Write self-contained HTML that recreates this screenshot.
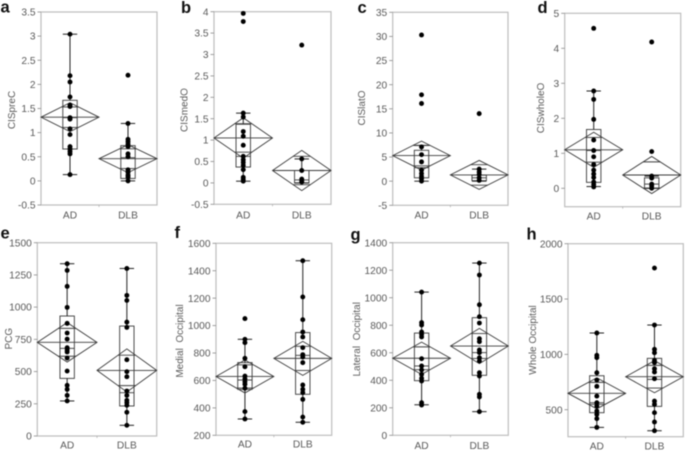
<!DOCTYPE html>
<html lang="en">
<head>
<meta charset="utf-8">
<title>Box plots of AD vs DLB</title>
<style>
html,body{margin:0;padding:0;background:#fff;width:685px;height:452px;overflow:hidden}
svg{display:block;filter:blur(0.45px)}
text{font-family:"Liberation Sans",sans-serif}
</style>
</head>
<body>
<svg id="chart" width="685" height="452" viewBox="0 0 685 452" xmlns="http://www.w3.org/2000/svg"></svg>
<script>
const categories = ['AD', 'DLB'];

// Stats order: whisker low, q1, median, q3, whisker high, mean, CI half-height
const aTicks = [3.5, 3, 2.5, 2, 1.5, 1, 0.5, 0, -0.5];
const aAdPoints = [3.04, 2.18, 2.05, 1.74, 1.57, 1.54, 1.31, 1.28, 1.08, 0.96, 0.71, 0.66, 0.61, 0.56, 0.13];
const aDlbPoints = [2.19, 1.19, 0.86, 0.81, 0.76, 0.71, 0.56, 0.5, 0.23, 0.18, 0.12, 0.08, 0];
const aAdStats = [0.13, 0.66, 1.31, 1.67, 3.04, 1.32, 0.3];
const aDlbStats = [0, 0.05, 0.48, 0.73, 1.19, 0.46, 0.29];

const bTicks = [4, 3.5, 3, 2.5, 2, 1.5, 1, 0.5, 0, -0.5];
const bAdPoints = [3.96, 3.77, 1.63, 1.54, 1.2, 1.09, 0.88, 0.62, 0.54, 0.48, 0.41, 0.31, 0.13, 0.08, 0.04];
const bDlbPoints = [3.22, 0.56, 0.29, 0.09, 0.05, 0.02];
const bAdStats = [0.04, 0.37, 0.62, 1.37, 1.63, 1.05, 0.47];
const bDlbStats = [0, 0, 0.07, 0.29, 0.56, 0.29, 0.47];

const cTicks = [35, 30, 25, 20, 15, 10, 5, 0, -5];
const cAdPoints = [30.3, 17.9, 16.1, 7.1, 5.5, 4, 2.3, 1.6, 1, 0.5, 0];
const cDlbPoints = [14, 2.5, 1.9, 1.4, 0.7, 0.15];
const cAdStats = [0, 0.7, 2.8, 6.4, 7.4, 5.3, 3];
const cDlbStats = [0, 0.1, 0.7, 1.25, 2.5, 1.3, 3];

const dTicks = [5, 4, 3, 2, 1, 0];
const dAdPoints = [4.57, 2.78, 2.54, 1.97, 1.38, 1.08, 0.9, 0.68, 0.52, 0.41, 0.31, 0.18, 0.11, 0.04];
const dDlbPoints = [4.18, 1.05, 0.35, 0.29, 0.12, 0.07, 0];
const dAdStats = [0.05, 0.17, 1.08, 1.68, 2.78, 1.1, 0.5];
const dDlbStats = [0, 0, 0.12, 0.3, 0.35, 0.38, 0.53];

const eTicks = [1500, 1250, 1000, 750, 500, 250, 0];
const eAdPoints = [1337, 1285, 1161, 998, 874, 799, 752, 685, 667, 652, 605, 504, 393, 362, 315, 272];
const eDlbPoints = [1300, 1091, 1052, 884, 843, 592, 499, 460, 349, 315, 277, 259, 238, 184, 83];
const eAdStats = [272, 447, 680, 931, 1337, 727, 153];
const eDlbStats = [83, 233, 336, 853, 1300, 509, 167];

const fTicks = [1600, 1400, 1200, 1000, 800, 600, 400, 200];
const fAdPoints = [1051, 900, 876, 761, 700, 632, 612, 591, 572, 543, 373, 319];
const fDlbPoints = [1473, 1209, 1043, 953, 917, 839, 788, 771, 730, 567, 535, 511, 462, 333, 295];
const fAdStats = [319, 535, 603, 730, 900, 629, 120];
const fDlbStats = [295, 499, 783, 949, 1473, 761, 124];

const gTicks = [1400, 1200, 1000, 800, 600, 400, 200, 0];
const gAdPoints = [1041, 819, 802, 751, 734, 715, 557, 504, 475, 443, 414, 395, 237, 220];
const gDlbPoints = [1252, 1165, 949, 862, 816, 702, 681, 620, 601, 564, 540, 455, 431, 298, 279, 172];
const gAdStats = [222, 397, 504, 743, 1041, 560, 117];
const gDlbStats = [172, 436, 601, 855, 1252, 649, 128];

const hTicks = [2000, 1500, 1000, 500];
const hAdPoints = [1193, 991, 970, 834, 768, 711, 623, 563, 533, 488, 458, 419, 340];
const hDlbPoints = [1780, 1265, 1045, 1015, 946, 925, 870, 840, 780, 578, 548, 473, 389, 310];
const hAdStats = [340, 473, 563, 807, 1193, 648, 140];
const hDlbStats = [310, 530, 774, 964, 1265, 798, 145];

const panels = [
  {id:'a', title:'CISpreC', ticks:aTicks, points:[aAdPoints,aDlbPoints], stats:[aAdStats,aDlbStats],
   x0:41, x1:157, vTop:3.5, pxTop:12, vBot:-0.5, pxBot:205, frameBot:205, lx:0.5, ly:12.7, tx:12.3, ty:110, catY:218.5},
  {id:'b', title:'CISmedO', ticks:bTicks, points:[bAdPoints,bDlbPoints], stats:[bAdStats,bDlbStats],
   x0:214, x1:331, vTop:4, pxTop:11.7, vBot:-0.5, pxBot:204.3, frameBot:204.3, lx:181, ly:13, tx:185, ty:110, catY:218.5},
  {id:'c', title:'CISlatO', ticks:cTicks, points:[cAdPoints,cDlbPoints], stats:[cAdStats,cDlbStats],
   x0:392.7, x1:508, vTop:35, pxTop:12.3, vBot:-5, pxBot:205.3, frameBot:205.3, lx:357.5, ly:13, tx:362.7, ty:108, catY:218.5},
  {id:'d', title:'CISwholeO', ticks:dTicks, points:[dAdPoints,dDlbPoints], stats:[dAdStats,dDlbStats],
   x0:564.7, x1:680.7, vTop:5, pxTop:13.3, vBot:0, pxBot:188.3, frameBot:206.7, lx:537.5, ly:13, tx:541.7, ty:108, catY:219.5},
  {id:'e', title:'PCG', ticks:eTicks, points:[eAdPoints,eDlbPoints], stats:[eAdStats,eDlbStats],
   x0:37.3, x1:156.7, vTop:1500, pxTop:242.7, vBot:0, pxBot:436, frameBot:436, lx:0.5, ly:238.7, tx:9.3, ty:338.7, catY:448.5},
  {id:'f', title:'Medial\u00A0\u00A0Occipital', ticks:fTicks, points:[fAdPoints,fDlbPoints], stats:[fAdStats,fDlbStats],
   x0:216, x1:331.7, vTop:1600, pxTop:243.3, vBot:200, pxBot:435.3, frameBot:435.3, lx:174.5, ly:238, tx:180.7, ty:341, catY:447.5},
  {id:'g', title:'Lateral\u00A0\u00A0Occipital', ticks:gTicks, points:[gAdPoints,gDlbPoints], stats:[gAdStats,gDlbStats],
   x0:392.7, x1:508.3, vTop:1400, pxTop:242.7, vBot:0, pxBot:435.3, frameBot:435.3, lx:350.5, ly:240, tx:357.3, ty:339.3, catY:449},
  {id:'h', title:'Whole Occipital', ticks:hTicks, points:[hAdPoints,hDlbPoints], stats:[hAdStats,hDlbStats],
   x0:568, x1:683.3, vTop:2000, pxTop:243.7, vBot:500, pxBot:409.7, frameBot:436.7, lx:526.5, ly:239.3, tx:533.3, ty:340, catY:449.5}
];

const NS = 'http://www.w3.org/2000/svg';
const root = document.getElementById('chart');
const FRAME = '#bdbdbd', INK = '#3a3a3a', LABEL = '#5a5a5a';

function make(parent, tag, attrs, content) {
  const el = document.createElementNS(NS, tag);
  for (const k in attrs) el.setAttribute(k, attrs[k]);
  if (content !== undefined) el.textContent = content;
  parent.appendChild(el);
  return el;
}

panels.forEach(function (p) {
  const yScale = function (v) {
    return p.pxTop + (v - p.vTop) * (p.pxBot - p.pxTop) / (p.vBot - p.vTop);
  };
  const bandW = (p.x1 - p.x0) / categories.length;
  const xScale = function (i) { return p.x0 + bandW * (i + 0.5); };

  const g = make(root, 'g', {});
  
  

  const letter = make(g, 'text', {x: p.lx, y: p.ly, 'font-size': 16.5, 'font-weight': 'bold', fill: '#111'}, p.id);
  
  

  const frame = make(g, 'rect', {x: p.x0, y: p.pxTop, width: p.x1 - p.x0, height: p.frameBot - p.pxTop, fill: 'none', stroke: FRAME, 'stroke-width': 1.2});
  
  

  const yTitle = make(g, 'text', {transform: 'translate(' + p.tx + ',' + p.ty + ') rotate(-90)', 'text-anchor': 'middle', 'dominant-baseline': 'central', 'font-size': 10, fill: LABEL}, p.title);
  
  

  p.ticks.forEach(function (t) {
    const y = yScale(t);
    const tick = make(g, 'line', {x1: p.x0 - 3.5, x2: p.x0, y1: y, y2: y, stroke: '#8a8a8a', 'stroke-width': 0.8});
    
    
    const label = make(g, 'text', {x: p.x0 - 5.5, y: y + 3.6, 'text-anchor': 'end', 'font-size': 10.2, fill: LABEL}, String(t));
    
    
  });

  const midTick = make(g, 'line', {x1: (p.x0 + p.x1) / 2, x2: (p.x0 + p.x1) / 2, y1: p.frameBot, y2: p.frameBot + 2, stroke: '#aaa', 'stroke-width': 0.7});
  
  

  categories.forEach(function (cat, i) {
    const cx = xScale(i);
    const s = p.stats[i];
    const low = s[0], q1 = s[1], med = s[2], q3 = s[3], high = s[4], mean = s[5], ci = s[6];
    const boxHalf = 7.2;
    const group = make(g, 'g', {fill: 'none', stroke: INK, 'stroke-width': 0.9});
    
    

    const box = make(group, 'rect', {x: cx - boxHalf, y: yScale(q3), width: boxHalf * 2, height: yScale(q1) - yScale(q3)});
    
    

    const median = make(group, 'line', {x1: cx - boxHalf, x2: cx + boxHalf, y1: yScale(med), y2: yScale(med)});
    
    

    const whiskerUp = make(group, 'line', {x1: cx, x2: cx, y1: yScale(q3), y2: yScale(high), stroke: '#222', 'stroke-width': 1});
    
    
    const whiskerDown = make(group, 'line', {x1: cx, x2: cx, y1: yScale(q1), y2: yScale(low), stroke: '#222', 'stroke-width': 1});
    
    

    const capUp = make(group, 'line', {x1: cx - boxHalf, x2: cx + boxHalf, y1: yScale(high), y2: yScale(high), stroke: '#222', 'stroke-width': 1});
    
    
    const capDown = make(group, 'line', {x1: cx - boxHalf, x2: cx + boxHalf, y1: yScale(low), y2: yScale(low), stroke: '#222', 'stroke-width': 1});
    
    

    const left = cx - bandW / 2, right = cx + bandW / 2;
    const diamond = make(group, 'polygon', {points: [
      left + ',' + yScale(mean),
      cx + ',' + yScale(mean + ci),
      right + ',' + yScale(mean),
      cx + ',' + yScale(mean - ci)
    ].join(' ')});
    
    

    const meanLine = make(group, 'line', {x1: left, x2: right, y1: yScale(mean), y2: yScale(mean)});
    
    

    const chord = (bandW / 2) * (1 - Math.SQRT1_2);
    [1, -1].forEach(function (dir) {
      const yy = yScale(mean + dir * ci * Math.SQRT1_2);
      const mark = make(group, 'line', {x1: cx - chord, x2: cx + chord, y1: yy, y2: yy});
      
      
    });

    p.points[i].forEach(function (v) {
      const dot = make(group, 'circle', {cx: cx, cy: yScale(v), r: 2.45, fill: '#000', stroke: 'none'});
      
      
    });

    const catLabel = make(g, 'text', {x: cx, y: p.catY, 'text-anchor': 'middle', 'font-size': 10.2, fill: LABEL}, cat);
    
    
  });
});
</script>
</body>
</html>
